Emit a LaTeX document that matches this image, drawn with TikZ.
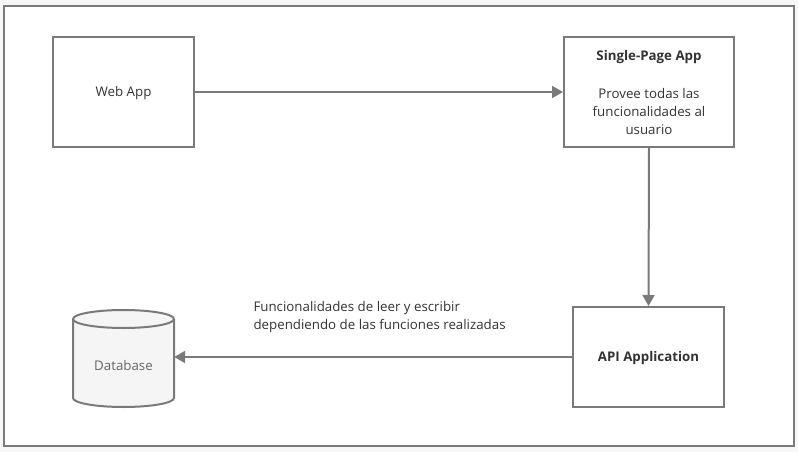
\documentclass[tikz,border=0pt]{standalone}
\usepackage{fontspec}
\setmainfont{Open Sans}
\usetikzlibrary{arrows.meta}
\definecolor{lineg}{HTML}{7A7A7A}
\definecolor{txt}{HTML}{333333}
\definecolor{dbtxt}{HTML}{666666}
\definecolor{bgg}{HTML}{F7F7F8}
\definecolor{dbfill}{HTML}{F5F5F5}
\newcommand{\fsz}{\fontsize{13.3}{18}\selectfont}
\tikzset{
  x=1pt,y=-1pt,
  boxnode/.style={draw=lineg,line width=2pt,fill=white,rectangle,inner sep=0pt,align=center,text=txt,font=\fsz},
  conn/.style={draw=lineg,line width=2pt,-{Triangle[length=11pt,width=12pt]}},
  cyl/.style={draw=lineg,line width=2pt},
}
\begin{document}
\begin{tikzpicture}
\fill[bgg] (0,0) rectangle (798,452);
\useasboundingbox (0,0) rectangle (798,452);
\draw[lineg,line width=2pt,fill=white] (4,6) rectangle (794,446);
\node[boxnode,minimum width=141pt,minimum height=110pt] (web) at (123.5,92) {};
\node[text=txt,font=\fsz] (webt) at (123.5,93.5) {Web App};
\node[boxnode,minimum width=170pt,minimum height=110pt] (spa) at (649,92) {};
\node[text=txt,font=\fsz\bfseries] (spat) at (649,57.5) {Single-Page App};
\node[text=txt,align=center,font=\fsz] (spad) at (649,111.5) {Provee todas las\\funcionalidades al\\usuario};
\node[boxnode,minimum width=151pt,minimum height=100pt] (api) at (648.5,357) {};
\node[text=txt,font=\fsz\bfseries] (apit) at (648.5,358.5) {API Application};
% database cylinder
\node[minimum width=101pt,minimum height=97pt,inner sep=0pt] (db) at (123.5,358.5) {};
\path[cyl,fill=dbfill] (73,319) -- (73,398) arc[start angle=180,end angle=360,x radius=50.5pt,y radius=9pt] -- (174,319) arc[start angle=0,end angle=180,x radius=50.5pt,y radius=9pt] -- cycle;
\draw[cyl] (73,319) arc[start angle=180,end angle=360,x radius=50.5pt,y radius=9pt];
\node[text=dbtxt,font=\fsz] (dbt) at (123.5,366) {Database};
\draw[conn] (web.east) -- (spa.west);
\draw[conn] (spa.south) -- (api.north);
\draw[conn] (api.west) -- (db.east |- api.west);
\node[anchor=west,align=left,text=txt,font=\fsz] (lbl) at (250,317) {Funcionalidades de leer y escribir\\dependiendo de las funciones realizadas};
\end{tikzpicture}
\end{document}
